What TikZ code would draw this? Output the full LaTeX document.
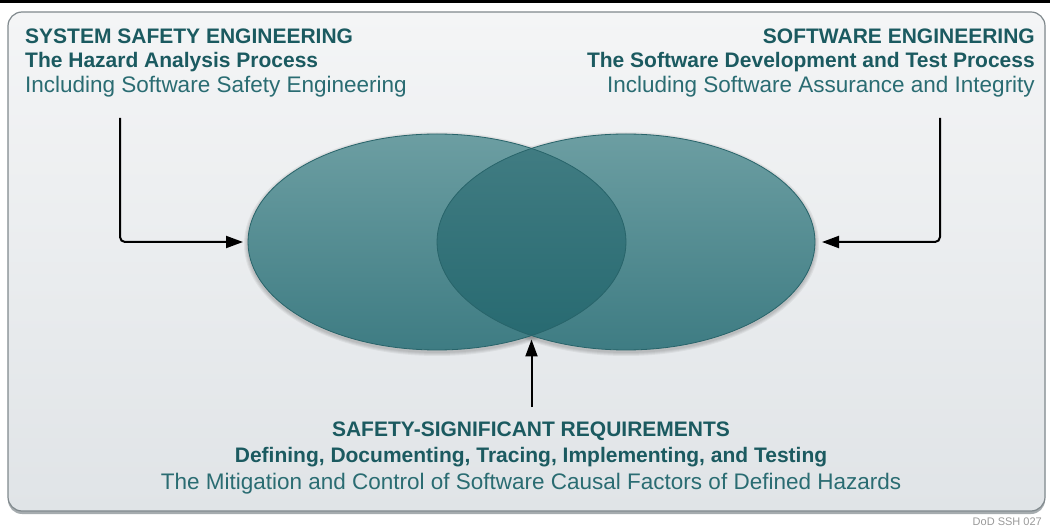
\documentclass[tikz,border=0pt]{standalone}
\usepackage{fontspec}
\setmainfont{Liberation Sans}
\usetikzlibrary{shapes.geometric,arrows.meta,calc}

\definecolor{headteal}{RGB}{27,90,96}
\definecolor{noteteal}{RGB}{42,108,114}
\definecolor{panetop}{RGB}{244,245,246}
\definecolor{panebottom}{RGB}{224,228,231}
\definecolor{paneedge}{RGB}{128,137,141}
\definecolor{blobtop}{RGB}{108,158,162}
\definecolor{blobbottom}{RGB}{62,124,131}
\definecolor{blobedge}{RGB}{40,100,106}
\definecolor{lenstop}{RGB}{66,125,131}
\definecolor{lensbottom}{RGB}{38,105,112}

\begin{document}
\begin{tikzpicture}[x=1pt,y=-1pt,
  blob/.style={ellipse,minimum width=378pt,minimum height=216pt,inner sep=0pt,
    outer sep=0pt,top color=blobtop,bottom color=blobbottom},
  head/.style={font=\fontsize{21}{24}\selectfont\bfseries,text=headteal,inner sep=0pt},
  note/.style={font=\fontsize{22.5}{24}\selectfont,text=noteteal,inner sep=0pt},
  flow/.style={line width=2pt,-{Triangle[length=17pt,width=12pt]},rounded corners=5pt}]

  \useasboundingbox (0,0) rectangle (1050,529);
  \fill[black] (0,0) rectangle (1050,3.5);

  % panel
  \fill[paneedge!70,rounded corners=14pt] (8,14) rectangle (1045,514);
  \shade[top color=panetop,bottom color=panebottom,draw=paneedge,line width=1.2pt,
    rounded corners=14pt] (8,12) rectangle (1045,511);

  % soft shadow round the two ellipses
  \foreach \r in {1,...,4}{
    \fill[black,opacity=0.05] (437,244) ellipse [x radius=189+\r, y radius=108+\r];
    \fill[black,opacity=0.05] (626,244) ellipse [x radius=189+\r, y radius=108+\r];
  }

  \node[blob] (sse) at (437,242) {};
  \node[blob] (swe) at (626,242) {};
  \begin{scope}
    \clip (sse.center) ellipse [x radius=189, y radius=108];
    \shade[top color=lenstop,bottom color=lensbottom] (swe.center) ellipse [x radius=189, y radius=108];
  \end{scope}
  \draw[blobedge,line width=0.8pt] (sse.center) ellipse [x radius=189, y radius=108];
  \draw[blobedge,line width=0.8pt] (swe.center) ellipse [x radius=189, y radius=108];

  % texts
  \node[head,anchor=base west] (sseHead) at (25,44) {SYSTEM SAFETY ENGINEERING};
  \node[head,anchor=base west] (sseSub) at (25,68) {The Hazard Analysis Process};
  \node[note,anchor=base west] (sseNote) at (25,93) {Including Software Safety Engineering};

  \node[head,anchor=base east] (sweHead) at (1035,44) {SOFTWARE ENGINEERING};
  \node[head,anchor=base east] (sweSub) at (1035,68) {The Software Development and Test Process};
  \node[note,anchor=base east] (sweNote) at (1035,93) {Including Software Assurance and Integrity};

  \node[head,anchor=base] (ssrHead) at (531,436) {SAFETY-SIGNIFICANT REQUIREMENTS};
  \node[head,anchor=base] (ssrSub) at (531,462) {Defining, Documenting, Tracing, Implementing, and Testing};
  \node[note,anchor=base] (ssrNote) at (531,489) {The Mitigation and Control of Software Causal Factors of Defined Hazards};

  \node[anchor=base east,inner sep=0pt,text=gray!80,font=\fontsize{11}{12}\selectfont] (tag) at (1042,525) {DoD SSH 027};

  % connectors
  \coordinate (sseFoot) at (120,118);
  \coordinate (sweFoot) at (940,118);
  \coordinate (ssrTop) at (531.5,407);
  \coordinate (lensBottom) at (531.5,335.5);
  \draw[flow,shorten >=5pt] (sseFoot) |- (sse.west);
  \draw[flow,shorten >=7pt] (sweFoot) |- (swe.east);
  \draw[flow,shorten >=4pt] (ssrTop) -- (lensBottom);
\end{tikzpicture}
\end{document}
